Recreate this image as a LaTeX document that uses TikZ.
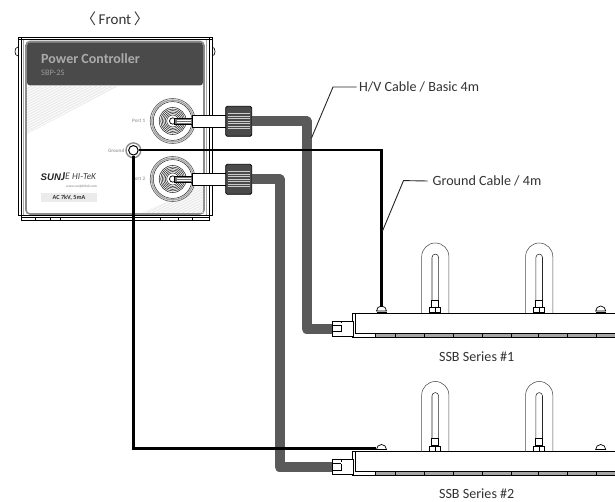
\documentclass[tikz,border=0pt]{standalone}
\usepackage{fontspec}
\setmainfont{Carlito}
\newfontfamily\cjkf{Noto Sans CJK KR}
\newfontfamily\logof{Liberation Sans}
\usetikzlibrary{calc}
\definecolor{hdr}{HTML}{4A4A4A}
\definecolor{cab}{HTML}{5A5A5A}
\definecolor{txt}{HTML}{333333}
\definecolor{pale}{HTML}{EBEBEB}
\tikzset{
  hvcable/.style={draw=cab,line width=10pt,line join=round},
  gndcable/.style={draw=black,line width=2.4pt},
  leader/.style={draw=black!85,line width=0.9pt},
  lbl/.style={font=\fontsize{14.1}{15}\selectfont,text=txt,inner sep=0pt},
  nutbox/.style={draw=black,fill=hdr,line width=0.8pt,rounded corners=1.5pt,minimum width=26pt,minimum height=30pt,inner sep=0pt},
  plugbox/.style={draw=black,fill=white,line width=0.8pt,minimum width=21pt,minimum height=15pt,inner sep=0pt},
  screwbox/.style={minimum width=10pt,minimum height=6pt,inner sep=0pt},
  faint/.style={font=\fontsize{5.2}{6}\selectfont\bfseries,text=black!35,inner sep=0pt},
}
\newcommand{\portdraw}[3]{% centre x,y ; nut name
  \filldraw[draw=black!60,fill=white,line width=0.7pt] (#1,#2) circle (22.5);
  \draw[black!35,line width=1.4pt] (#1,#2) circle (20.9);
  \draw[black!85,line width=0.5pt] (#1,#2) circle (19.4);
  \foreach \r in {13.5,12,10.5,9,7.5,6}{\draw[black!85,line width=0.55pt] (#1,#2) circle (\r);}
  \filldraw[draw=black,fill=white,line width=0.7pt] (#1,#2) circle (3.2);
  \filldraw[draw=black,fill=black!55,line width=0.7pt] ($(#1,#2)+(2,-3)$) rectangle ($(#1,#2)+(20,3)$);
  \draw[white,line width=0.7pt] ($(#1,#2)+(4,-1)$) -- ($(#1,#2)+(18,-1)$) ($(#1,#2)+(4,1)$) -- ($(#1,#2)+(18,1)$);
  \filldraw[draw=black,fill=white,line width=0.9pt] ($(#1,#2)+(19.5,-6)$) rectangle ($(#1,#2)+(53.5,6.5)$);
  \node[nutbox] (#3) at ($(#1,#2)+(66,0.3)$) {};
  \foreach \d in {-7.5,-5,-2.5,0,2.5,5,7.5}{\draw[black!20,line width=1.1pt] ($(#3.center)+(-11,\d)$) -- ($(#3.center)+(11,\d)$);}
}
\newcommand{\screwdraw}[3]{% x,y,name
  \node[screwbox] (#3) at (#1,#2) {};
  \filldraw[draw=black,fill=white,line width=0.7pt] ($(#1,#2)+(-5,1)$) arc[start angle=180,end angle=360,radius=5] -- cycle;
  \draw[black,line width=1pt] ($(#1,#2)+(-5,2.6)$) -- ($(#1,#2)+(5,2.6)$);
}
\newcommand{\lampdraw}[1]{% left x of the loop
  \draw[draw=black!70,line width=0.55pt] (#1,313) -- (#1,256.6) arc[start angle=180,end angle=360,radius=13.6] -- (#1+27.2,313);
  \draw[draw=black!85,line width=0.55pt] (#1+10.3,300) -- (#1+10.3,257.4) arc[start angle=180,end angle=360,radius=3.3] -- (#1+16.9,300);
  \draw[draw=black,line width=0.55pt] (#1+10,300) rectangle (#1+17,307);
  \draw[draw=black,line width=0.55pt] (#1+8,307.5) rectangle (#1+19,312.5);
  \draw[draw=black,line width=0.5pt] (#1+13.5,307.5) -- (#1+13.5,312.5);
  \draw[draw=black,line width=0.9pt] (#1,313) -- (#1+27.2,313);
}
\newcommand{\bardraw}[1]{% bar number
  \fill[black!35] (375,333) rectangle (615,336.6);
  \draw[draw=black,line width=0.8pt] (615,313.2) -- (352.5,313.2) -- (352.5,337) -- (615,337);
  \draw[draw=black,line width=0.8pt] (355.5,313.2) -- (355.5,333) -- (615,333);
  \foreach \t in {375,395,424,453,482,511,538,567,596.5}{\draw[draw=black,line width=0.8pt] (\t,333) -- (\t,337);}
  \lampdraw{421.7}
  \lampdraw{525.6}
  \screwdraw{381.5}{310}{screw#1}
  \screwdraw{600.7}{310}{rscrew#1}
  \node[plugbox] (plug#1) at (342.5,328.5) {};
  \draw[draw=black,line width=0.7pt] (332,325) -- (341,325) (332,331.5) -- (341,331.5) -- (341,325);
  \draw[draw=black,line width=0.8pt] (341,321) -- (341,323);
}
\begin{document}
\begin{tikzpicture}[x=1pt,y=-1pt]
\useasboundingbox (0,0) rectangle (615,502);
\fill[white] (0,0) rectangle (615,502);

% ---- title
\node[lbl,font=\fontsize{15}{16}\selectfont] (front) at (115,19) {{\cjkf\char"3008}\,Front\,{\cjkf\char"3009}};

% ---- controller box
\draw[draw=black,line width=0.6pt] (18,47) .. controls (14,47) and (14,56) .. (18,56)
   (212,47) .. controls (216,47) and (216,56) .. (212,56);
\filldraw[draw=black,fill=white,line width=0.7pt] (18,37.5) rectangle (212,215);
\draw[draw=black,line width=0.6pt] (21,38) -- (21,215) (209,38) -- (209,215) (18,39.5) -- (212,39.5);
\draw[draw=black!35,line width=1.2pt] (23.5,40) -- (23.5,215) (206.5,40) -- (206.5,215);
\filldraw[draw=black,fill=white,line width=0.7pt] (21,215) rectangle (209,220);
\draw[draw=black,line width=0.5pt] (21,217.5) -- (209,217.5);
\foreach \t in {35,50,60,160,178,192}{\draw[draw=black,line width=0.6pt] (\t,217.5) -- (\t,220);}
\filldraw[draw=black!45,fill=white,line width=1.6pt,rounded corners=4pt] (26,41.5) rectangle (204,214);
\fill[hdr,rounded corners=3pt] (27,42.5) -- (203,42.5) -- (203,85.5) -- (27,85.5) -- cycle;
\begin{scope}
  \clip (27,86) -- (118,86) -- (27,134) -- cycle;
  \foreach \k in {0,5,...,130}{\draw[pale,line width=1.3pt] (27+\k,86) -- (\k-63,134);}
\end{scope}
\begin{scope}
  \clip (203,184) -- (203,213) -- (142,213) -- cycle;
  \foreach \k in {0,5,...,130}{\draw[pale,line width=1.3pt] (142+\k,213) -- (203+\k,181);}
\end{scope}
\node[anchor=west,inner sep=0pt,text=black!33,font=\fontsize{14}{15}\selectfont\bfseries] (title) at (41,59) {Power Controller};
\node[anchor=west,inner sep=0pt,text=black!40,font=\fontsize{8.4}{9}\selectfont] (model) at (41,73) {SBP-2S};

% ---- logo and rating
\node[anchor=west,inner sep=0pt,font=\logof\fontsize{9.6}{10}\selectfont\bfseries\itshape,text=black!85] (logoa) at (40.5,177.5) {SUN};
\node[anchor=west,inner sep=0pt,font=\fontsize{12}{12}\selectfont\bfseries\itshape,text=black!85] (logob) at (61,176.5) {J};
\node[anchor=west,inner sep=0pt,font=\fontsize{10}{10}\selectfont\itshape,text=black!70] (logoc) at (65,176) {E};
\node[anchor=west,inner sep=0pt,font=\fontsize{9.2}{10}\selectfont\itshape,text=black!75] (logod) at (72,177) {HI-TeK};
\node[anchor=west,inner sep=0pt,font=\fontsize{3.6}{4}\selectfont,text=black!50] (logoe) at (66,186.5) {www.sunjehitek.com};
\node[fill=black!8,minimum width=56pt,minimum height=9pt,inner sep=0pt,font=\fontsize{6.2}{7}\selectfont\bfseries,text=black!80] (rating) at (69,197.5) {AC 7kV, 5mA};

% ---- ports
\node[faint,anchor=west] (p1lbl) at (132,120.5) {Port 1};
\node[faint,anchor=west] (p2lbl) at (132,179) {Port 2};
\node[faint,anchor=east] (glbl) at (124.5,150.3) {Ground};
\portdraw{172.7}{121}{nutA}
\portdraw{172.7}{179}{nutB}

% ---- ground terminal
\filldraw[draw=black!45,fill=white,line width=1.4pt] (133.4,150.3) circle (7.4);
\node[circle,draw=black,fill=white,line width=1pt,minimum size=9.5pt,inner sep=0pt] (gnd) at (133.4,150.3) {};

% ---- SSB bars
\bardraw{1}
\begin{scope}[yshift=-138.5pt]
  \bardraw{2}
\end{scope}
\node[lbl] (ssbA) at (476.7,357) {SSB Series \#1};
\node[lbl] (ssbB) at (476.7,494) {SSB Series \#2};

% ---- H/V cables
\coordinate (hvA) at (306.5,121.3);
\coordinate (hvB) at (279.5,179.3);
\draw[hvcable] (nutA.east) -- (hvA) -- (hvA |- plug1.west) -- (plug1.west);
\draw[hvcable] (nutB.east) -- (hvB) -- (hvB |- plug2.west) -- (plug2.west);

% ---- ground cables
\coordinate (gA) at (screw1.north |- gnd.east);
\draw[gndcable] (gnd.east) -- (gA) -- (screw1.north);
\draw[gndcable] (gnd.south) -- (gnd.south |- screw2.west) -- (screw2.west);

% ---- leaders and labels
\node[lbl,anchor=west] (hvlabel) at (359,87) {H/V Cable / Basic 4m};
\node[lbl,anchor=west] (gndlabel) at (432.5,181) {Ground Cable / 4m};
\coordinate (hvfoot) at (311.5,138);
\coordinate (hvknee) at (333,87);
\coordinate (gfoot) at (382.5,231);
\coordinate (gknee) at (403.5,180.6);
\draw[leader] (hvfoot) -- (hvknee) -- ($(hvlabel.west)+(-2.5,0)$);
\draw[leader] (gfoot) -- (gknee) -- ($(gndlabel.west)+(-5,0)$);
\end{tikzpicture}
\end{document}
